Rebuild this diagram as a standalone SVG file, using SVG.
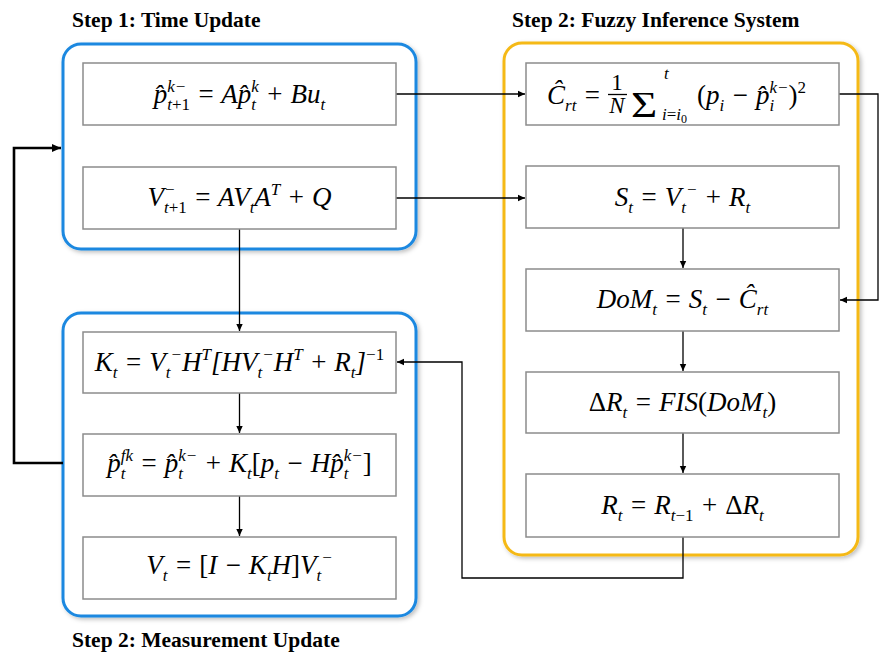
<svg xmlns="http://www.w3.org/2000/svg" width="880" height="654" viewBox="0 0 880 654">
  <defs>
    <style>
      .title { font-family: "Liberation Serif", "Times New Roman", serif; font-weight: bold; font-size: 21.5px; fill: #000; }
      .m { font-family: "Liberation Serif", "DejaVu Serif", serif; font-style: italic; font-size: 27px; fill: #000; }
      .s { font-size: 17px; }
      .f { font-size: 23px; }
      .up { font-style: normal; }
      .group-blue { fill: #fff; stroke: #1a88e0; stroke-width: 3; }
      .group-gold { fill: #fff; stroke: #f5b915; stroke-width: 3; }
      .box { fill: #fff; stroke: #8c8c8c; stroke-width: 1.5; }
      .conn { fill: none; stroke: #000; stroke-width: 1.3; }
      .loop { fill: none; stroke: #000; stroke-width: 2.6; }
    </style>
    <filter id="shadow" x="-10%" y="-10%" width="120%" height="120%">
      <feDropShadow dx="2" dy="2" stdDeviation="2" flood-color="#000" flood-opacity="0.25"/>
    </filter>
    <marker id="arrow" markerWidth="8" markerHeight="8" refX="7" refY="4" orient="auto" markerUnits="userSpaceOnUse">
      <path d="M0,0.8 L7,4 L0,7.2 Z" fill="#000"/>
    </marker>
    <marker id="arrowBig" markerWidth="10" markerHeight="10" refX="9" refY="5" orient="auto" markerUnits="userSpaceOnUse">
      <path d="M0,1 L9,5 L0,9 Z" fill="#000"/>
    </marker>
  </defs>

  <rect width="880" height="654" fill="#fff"/>

  <!-- Section titles -->
  <text class="title" x="72" y="27">Step 1: Time Update</text>
  <text class="title" x="512" y="27">Step 2: Fuzzy Inference System</text>
  <text class="title" x="72" y="647">Step 2: Measurement Update</text>

  <!-- Group containers -->
  <g id="time-update">
    <rect class="group-blue" x="63" y="44" width="353" height="205" rx="18" filter="url(#shadow)"/>
  </g>
  <g id="measurement-update">
    <rect class="group-blue" x="63" y="313" width="353" height="303" rx="18" filter="url(#shadow)"/>
  </g>
  <g id="fuzzy-inference">
    <rect class="group-gold" x="504" y="43" width="354" height="512" rx="18" filter="url(#shadow)"/>
  </g>

  <!-- Connectors -->
  <g id="connectors">
    <path class="conn" d="M396,94 H525" marker-end="url(#arrow)"/>
    <path class="conn" d="M396,198 H525" marker-end="url(#arrow)"/>
    <path class="conn" d="M839,94 H878 V300 H840" marker-end="url(#arrow)"/>
    <path class="conn" d="M239.5,229 V331" marker-end="url(#arrow)"/>
    <path class="conn" d="M239.5,393 V433" marker-end="url(#arrow)"/>
    <path class="conn" d="M239.5,496 V536" marker-end="url(#arrow)"/>
    <path class="conn" d="M683,228 V268" marker-end="url(#arrow)"/>
    <path class="conn" d="M683,331 V371" marker-end="url(#arrow)"/>
    <path class="conn" d="M683,433 V473" marker-end="url(#arrow)"/>
    <path class="conn" d="M683,537 V578 H462 V362 H397" marker-end="url(#arrow)"/>
    <path class="loop" d="M63,463 H14 V148 H61" marker-end="url(#arrowBig)"/>
  </g>

  <!-- Step 1 nodes -->
  <g id="state-prediction">
    <rect class="box" x="83" y="63" width="313" height="62"/>
    <text class="m" x="239.5" y="103" text-anchor="middle">p̂<tspan class="s" dy="-11">k−</tspan><tspan class="s" dx="-19" dy="18">t<tspan class="up">+1</tspan></tspan><tspan dy="-7"> = Ap̂</tspan><tspan class="s" dy="7">t</tspan><tspan class="s" dx="-4.7" dy="-18">k</tspan><tspan dy="11"> + Bu</tspan><tspan class="s" dy="7">t</tspan></text>
  </g>
  <g id="covariance-prediction">
    <rect class="box" x="83" y="167" width="313" height="62"/>
    <text class="m" x="239.5" y="206" text-anchor="middle">V<tspan class="s" dy="-11">−</tspan><tspan class="s" dx="-11.5" dy="18">t<tspan class="up">+1</tspan></tspan><tspan dy="-7"> = AV</tspan><tspan class="s" dy="7">t</tspan><tspan dy="-7">A</tspan><tspan class="s" dy="-11">T</tspan><tspan dy="11"> + Q</tspan></text>
  </g>

  <!-- Measurement update nodes -->
  <g id="kalman-gain">
    <rect class="box" x="83" y="332" width="313" height="61"/>
    <text class="m" x="239.5" y="371" text-anchor="middle">K<tspan class="s" dy="7">t</tspan><tspan dy="-7"> = V</tspan><tspan class="s" dy="7">t</tspan><tspan class="s" dy="-18">−</tspan><tspan dy="11">H</tspan><tspan class="s" dy="-11">T</tspan><tspan dy="11">[HV</tspan><tspan class="s" dy="7">t</tspan><tspan class="s" dy="-18">−</tspan><tspan dy="11">H</tspan><tspan class="s" dy="-11">T</tspan><tspan dy="11"> + R</tspan><tspan class="s" dy="7">t</tspan><tspan dy="-7">]</tspan><tspan class="s up" dy="-11">−1</tspan></text>
  </g>
  <g id="state-correction">
    <rect class="box" x="83" y="434" width="313" height="62"/>
    <text class="m" x="239.5" y="472" text-anchor="middle">p̂<tspan class="s" dy="7">t</tspan><tspan class="s" dx="-4.7" dy="-18">fk</tspan><tspan dy="11"> = p̂</tspan><tspan class="s" dy="7">t</tspan><tspan class="s" dx="-4.7" dy="-18">k−</tspan><tspan dy="11"> + K</tspan><tspan class="s" dy="7">t</tspan><tspan class="up" dy="-7">[</tspan>p<tspan class="s" dy="7">t</tspan><tspan dy="-7"> − Hp̂</tspan><tspan class="s" dy="7">t</tspan><tspan class="s" dx="-4.7" dy="-18">k−</tspan><tspan class="up" dy="11">]</tspan></text>
  </g>
  <g id="covariance-correction">
    <rect class="box" x="83" y="537" width="313" height="62"/>
    <text class="m" x="239.5" y="574" text-anchor="middle">V<tspan class="s" dy="7">t</tspan><tspan dy="-7"> = </tspan><tspan class="up">[</tspan>I − K<tspan class="s" dy="7">t</tspan><tspan dy="-7">H</tspan><tspan class="up">]</tspan>V<tspan class="s" dy="7">t</tspan><tspan class="s" dy="-18">−</tspan></text>
  </g>

  <!-- Fuzzy inference nodes -->
  <g id="residual-covariance">
    <rect class="box" x="526" y="63" width="313" height="62"/>
    <text class="m" x="547" y="104">Ĉ<tspan class="s" dy="7">rt</tspan><tspan dy="-7"> =</tspan></text>
    <text class="m f up" x="617" y="90" text-anchor="middle">1</text>
    <line x1="608" y1="94.5" x2="627" y2="94.5" stroke="#000" stroke-width="1.3"/>
    <text class="m f" x="617" y="113" text-anchor="middle">N</text>
    <!-- summation sign, widened -->
    <text font-family="Liberation Serif, serif" font-size="36" fill="#000" transform="translate(631,117) scale(1.25,1)" x="0" y="0">Σ</text>
    <text class="m s" x="664" y="79">t</text>
    <text class="m s" x="662" y="120">i<tspan class="up">=</tspan>i<tspan class="up" style="font-size:12px" dy="3">0</tspan></text>
    <text class="m" x="697" y="104"><tspan class="up">(</tspan>p<tspan class="s" dy="7">i</tspan><tspan dy="-7"> − p̂</tspan><tspan class="s" dy="7">i</tspan><tspan class="s" dx="-4.7" dy="-18">k−</tspan><tspan class="up" dy="11">)</tspan><tspan class="s up" dy="-11">2</tspan></text>
  </g>
  <g id="innovation-covariance">
    <rect class="box" x="526" y="166" width="313" height="62"/>
    <text class="m" x="682.5" y="206" text-anchor="middle">S<tspan class="s" dy="7">t</tspan><tspan dy="-7"> = V</tspan><tspan class="s" dy="7">t</tspan><tspan class="s" dy="-18">−</tspan><tspan dy="11"> + R</tspan><tspan class="s" dy="7">t</tspan></text>
  </g>
  <g id="degree-of-mismatch">
    <rect class="box" x="526" y="269" width="313" height="62"/>
    <text class="m" x="682.5" y="308" text-anchor="middle">DoM<tspan class="s" dy="7">t</tspan><tspan dy="-7"> = S</tspan><tspan class="s" dy="7">t</tspan><tspan dy="-7"> − Ĉ</tspan><tspan class="s" dy="7">rt</tspan></text>
  </g>
  <g id="fis-output">
    <rect class="box" x="526" y="372" width="313" height="61"/>
    <text class="m" x="682.5" y="411" text-anchor="middle"><tspan class="up">Δ</tspan>R<tspan class="s" dy="7">t</tspan><tspan dy="-7"> = FIS</tspan><tspan class="up">(</tspan>DoM<tspan class="s" dy="7">t</tspan><tspan class="up" dy="-7">)</tspan></text>
  </g>
  <g id="noise-update">
    <rect class="box" x="526" y="474" width="313" height="63"/>
    <text class="m" x="682.5" y="514" text-anchor="middle">R<tspan class="s" dy="7">t</tspan><tspan dy="-7"> = R</tspan><tspan class="s" dy="7">t<tspan class="up">−1</tspan></tspan><tspan dy="-7"> + </tspan><tspan class="up">Δ</tspan>R<tspan class="s" dy="7">t</tspan></text>
  </g>
</svg>
